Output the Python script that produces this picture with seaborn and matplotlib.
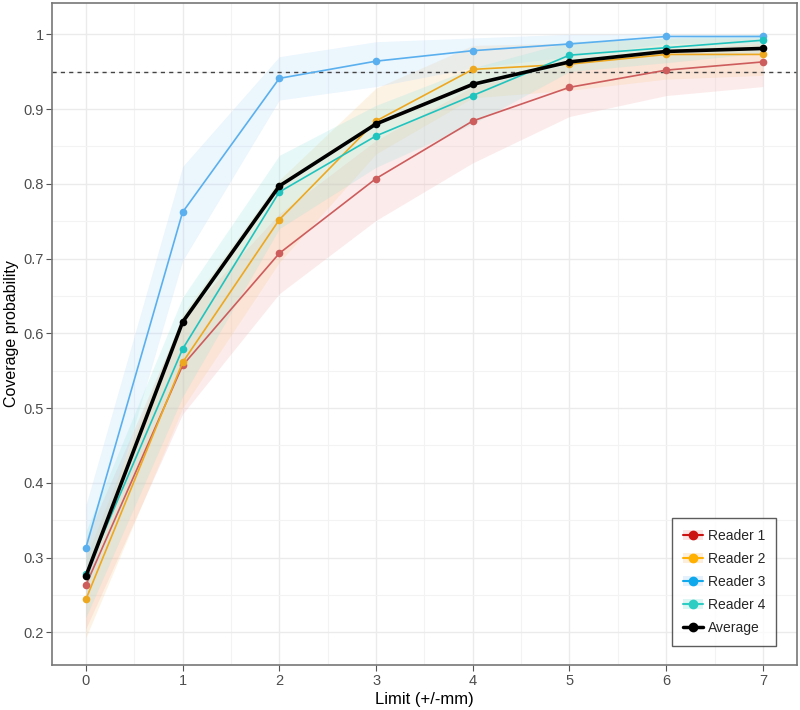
import numpy as np
import pandas as pd
import matplotlib
matplotlib.use("Agg")
import matplotlib.pyplot as plt
import seaborn as sns
from matplotlib.lines import Line2D
from matplotlib.patches import Patch
from matplotlib.ticker import MultipleLocator

# limits in mm
limits = [0, 1, 2, 3, 4, 5, 6, 7]

# coverage probability per reader
reader1 = [0.263, 0.557, 0.707, 0.807, 0.884, 0.929, 0.952, 0.963]
reader2 = [0.244, 0.561, 0.752, 0.884, 0.953, 0.960, 0.973, 0.973]
reader3 = [0.313, 0.762, 0.941, 0.964, 0.978, 0.987, 0.997, 0.997]
reader4 = [0.278, 0.579, 0.789, 0.864, 0.918, 0.972, 0.982, 0.992]
average = [0.275, 0.615, 0.797, 0.880, 0.933, 0.963, 0.977, 0.981]

# confidence bands
reader1_lo = [0.205, 0.492, 0.653, 0.751, 0.828, 0.890, 0.918, 0.930]
reader1_hi = [0.325, 0.620, 0.760, 0.858, 0.930, 0.960, 0.978, 0.988]
reader2_lo = [0.193, 0.500, 0.695, 0.840, 0.915, 0.925, 0.940, 0.945]
reader2_hi = [0.300, 0.625, 0.805, 0.928, 0.985, 0.988, 0.995, 0.995]
reader3_lo = [0.255, 0.697, 0.912, 0.930, 0.955, 0.970, 0.988, 0.988]
reader3_hi = [0.370, 0.823, 0.970, 0.990, 0.995, 1.000, 1.000, 1.000]
reader4_lo = [0.220, 0.515, 0.740, 0.822, 0.880, 0.950, 0.962, 0.975]
reader4_hi = [0.335, 0.648, 0.838, 0.905, 0.955, 0.990, 0.995, 1.000]

names = ["Reader 1", "Reader 2", "Reader 3", "Reader 4", "Average"]
colors = ["#cd5c5c", "#eea820", "#5ab0ee", "#20c4be", "#000000"]
fills = ["#f4a6a6", "#f8c98a", "#a9d6fa", "#8fe3dc"]
legend_colors = ["#cc1111", "#ffb000", "#10a8ec", "#2ecdc4", "#000000"]

series = [reader1, reader2, reader3, reader4, average]
bands = [(reader1_lo, reader1_hi), (reader2_lo, reader2_hi),
         (reader3_lo, reader3_hi), (reader4_lo, reader4_hi)]

df = pd.DataFrame({
    "limit": limits * len(names),
    "coverage": [v for s in series for v in s],
    "who": [n for n in names for _ in limits],
})

sns.set_style("white")
plt.rcParams["font.family"] = ["Liberation Sans", "DejaVu Sans"]

fig = plt.figure(figsize=(8, 7.1), dpi=100)
ax = fig.add_axes([0.065, 0.063, 0.931, 0.933])

# ribbons first
for (lo, hi), fc in zip(bands, fills):
    ax.fill_between(limits, lo, hi, color=fc, alpha=0.22, linewidth=0, zorder=1)

ax.axhline(0.95, color="#444444", linestyle=(0, (3, 3)), linewidth=1, zorder=2)

sns.lineplot(data=df[df.who != "Average"], x="limit", y="coverage", hue="who",
             palette=colors[:4], marker="o", markersize=5.5, markeredgewidth=0,
             linewidth=1.2, legend=False, ax=ax, zorder=3)
sns.lineplot(data=df[df.who == "Average"], x="limit", y="coverage", color="black",
             marker="o", markersize=5.5, markeredgewidth=0, linewidth=2.6,
             legend=False, ax=ax, zorder=4)

ax.set_xlim(-0.35, 7.35)
ax.set_ylim(0.156, 1.042)
ax.xaxis.set_major_locator(MultipleLocator(1))
ax.xaxis.set_minor_locator(MultipleLocator(0.5))
ax.yaxis.set_major_locator(MultipleLocator(0.1))
ax.yaxis.set_minor_locator(MultipleLocator(0.05))
ax.set_yticklabels([f"{t:g}" for t in ax.get_yticks()])
ax.grid(which="major", color="#ebebeb", linewidth=1)
ax.grid(which="minor", color="#f3f3f3", linewidth=0.8)
ax.set_axisbelow(True)

for sp in ax.spines.values():
    sp.set_color("#777777")
    sp.set_linewidth(1.2)

ax.tick_params(axis="both", which="major", length=4, color="#555555", pad=2,
               labelsize=10.5, labelcolor="#4d4d4d", bottom=True, left=True)
ax.tick_params(which="minor", length=0)
ax.set_xlabel("Limit (+/-mm)", fontsize=12, color="black", labelpad=3)
ax.set_ylabel("Coverage probability", fontsize=11.5, color="black", labelpad=3)

handles = []
for i, n in enumerate(names):
    ln = Line2D([], [], color=legend_colors[i], marker="o", markersize=6,
                linewidth=1.5 if i < 4 else 2.5)
    if i < 4:
        handles.append((Patch(facecolor=fills[i], alpha=0.3, edgecolor="none"), ln))
    else:
        handles.append(ln)
leg = ax.legend(handles, names, loc="lower right", bbox_to_anchor=(0.978, 0.023),
                frameon=True, fancybox=False, fontsize=10, handlelength=1.4,
                borderpad=0.8, labelspacing=0.65, handletextpad=0.35,
                borderaxespad=0.3)
leg.get_frame().set_edgecolor("#333333")
leg.get_frame().set_linewidth(1)

fig.savefig("out.png", dpi=100)
